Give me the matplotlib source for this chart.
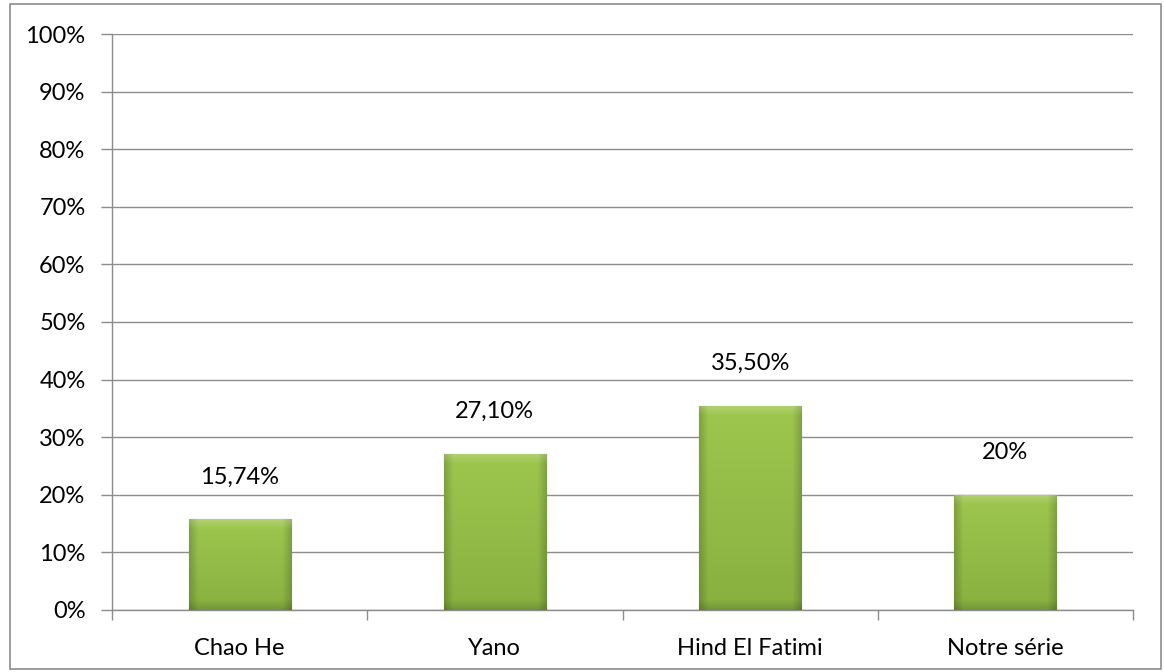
import matplotlib.pyplot as plt
import numpy as np
from matplotlib.patches import Rectangle

categories = ["Chao He", "Yano", "Hind El Fatimi", "Notre série"]
values = [15.74, 27.10, 35.50, 20.0]
labels = ["15,74%", "27,10%", "35,50%", "20%"]
yticks = np.arange(0, 101, 10)

plt.rcParams['font.family'] = ['Lato', 'DejaVu Sans']

fig = plt.figure(figsize=(11.64, 6.72), dpi=100)
ax = fig.add_axes([0.0962, 0.0923, 0.8772, 0.8571])

# cadre extérieur
fig.patches.append(Rectangle((0.009, 0.004), 0.988, 0.99, transform=fig.transFigure,
                             fill=False, edgecolor="#8c8c8c", linewidth=1.2))

x = np.arange(len(categories))
bars = ax.bar(x, values, width=0.4, color="#8fb842", edgecolor="#5f7f2a",
              linewidth=0.8, zorder=3)

# dégradé vert avec effet biseauté
ny, nx = 200, 100
yy = np.linspace(0, 1, ny)[:, None]      # 0 = bas, 1 = haut
xx = np.linspace(0, 1, nx)[None, :]
top = np.array([0.62, 0.78, 0.31])
bot = np.array([0.53, 0.69, 0.25])
for b in bars:
    x0, w, h = b.get_x(), b.get_width(), b.get_height()
    img = bot + (top - bot) * yy[..., None]
    img = np.broadcast_to(img, (ny, nx, 3)).copy()
    # bords latéraux plus sombres
    edge = np.minimum(xx, 1 - xx)
    dark = np.clip(1 - edge / 0.09, 0, 1) * 0.18
    img = img * (1 - dark[..., None])
    # biseau supérieur plus clair, biseau inférieur plus sombre
    bev = 10 / (h * 5.76)
    light = np.clip((yy - (1 - bev)) / bev, 0, 1) * 0.2
    img = np.clip(img + light[..., None] * (1 - img), 0, 1)
    shade = np.clip((bev - yy) / bev, 0, 1) * 0.15
    img = img * (1 - shade[..., None])
    im = ax.imshow(img, extent=[x0, x0 + w, 0, h], origin="lower",
                   aspect="auto", zorder=3.5)
    im.set_clip_path(b)

for xi, v, lab in zip(x, values, labels):
    ax.text(xi, v + 6.2, lab, ha="center", va="baseline", fontsize=17, color="black")

ax.set_xlim(-0.5, len(categories) - 0.5)
ax.set_ylim(0, 100)
ax.set_yticks(yticks)
ax.set_yticklabels([f"{t}%" for t in yticks], fontsize=17)
ax.set_xticks(x)
ax.set_xticklabels(categories, fontsize=17)
ax.set_xticks(np.arange(-0.5, len(categories), 1), minor=True)
ax.tick_params(axis="x", which="major", length=0, pad=20)
ax.tick_params(axis="x", which="minor", length=7, color="#8c8c8c", width=1)
ax.tick_params(axis="y", length=8, color="#8c8c8c", width=1, pad=11)
ax.grid(axis="y", color="#8c8c8c", linewidth=1, zorder=0)
ax.set_axisbelow(True)
for s in ["top", "right"]:
    ax.spines[s].set_visible(False)
for s in ["left", "bottom"]:
    ax.spines[s].set_color("#8c8c8c")
    ax.spines[s].set_linewidth(1)

fig.savefig("out.png", dpi=100)
